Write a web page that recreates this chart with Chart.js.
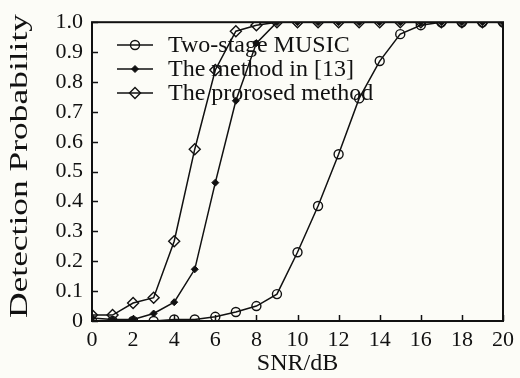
<!DOCTYPE html>
<html>
<head>
<meta charset="utf-8">
<script src="https://cdn.jsdelivr.net/npm/chart.js@4/dist/chart.umd.min.js"></script>
<style>
html,body{margin:0;padding:0;background:#fcfcf7;}
#wrap{width:520px;height:378px;}
</style>
</head>
<body>
<div id="wrap"><canvas id="c" width="520" height="378"></canvas></div>
<script>
const snr = [0,1,2,3,4,5,6,7,8,9,10,11,12,13,14,15,16,17,18,19,20];
const twoStageMusic = [0,0,0,0,0.005,0.005,0.014,0.03,0.05,0.09,0.23,0.385,0.558,0.745,0.87,0.96,0.99,1,1,1,1];
const method13 = [0.01,0.005,0.005,0.025,0.063,0.173,0.463,0.737,0.93,1,1,1,1,1,1,1,1,1,1,1,1];
const proposed = [0.02,0.02,0.06,0.078,0.267,0.575,0.84,0.97,0.99,1,1,1,1,1,1,1,1,1,1,1,1];
const seriesLabels = ['Two-stage MUSIC','The method in [13]','The prorosed method'];
const xTitle = 'SNR/dB';
const yTitle = 'Detection Probability';

const BG = '#fcfcf7';
const INK = '#111111';
const SERIF = '"Liberation Serif","DejaVu Serif",serif';

function pts(arr){ return arr.map((v,i)=>({x:snr[i], y:v})); }

const bgPlugin = {
  id:'bg',
  beforeDraw(chart){
    const ctx = chart.ctx;
    ctx.save(); ctx.fillStyle = BG; ctx.fillRect(0,0,chart.width,chart.height); ctx.restore();
  }
};

const legendPlugin = {
  id:'inlegend',
  beforeDatasetsDraw(chart){
    const ctx = chart.ctx;
    const rows = [45,69,93];
    ctx.save();
    chart.data.datasets.forEach((ds,i)=>{
      const y = rows[i];
      ctx.strokeStyle = INK; ctx.lineWidth = 1.5;
      ctx.beginPath(); ctx.moveTo(117,y); ctx.lineTo(153,y); ctx.stroke();
      ctx.fillStyle = ds.pointBackgroundColor; ctx.strokeStyle = INK; ctx.lineWidth = ds.pointBorderWidth;
      Chart.helpers.drawPoint(ctx,{pointStyle:ds.pointStyle, radius:ds.pointRadius, borderWidth:ds.pointBorderWidth, rotation:0},135,y);
      ctx.fillStyle = INK; ctx.font = '24px ' + SERIF; ctx.textBaseline = 'middle'; ctx.textAlign = 'left';
      ctx.fillText(ds.label,168,y+1);
    });
    ctx.restore();
  }
};

const framePlugin = {
  id:'frame',
  afterDraw(chart){
    const ctx = chart.ctx, a = chart.chartArea;
    const xs = chart.scales.x, ys = chart.scales.y;
    ctx.save();
    ctx.strokeStyle = INK; ctx.lineWidth = 1.5;
    xs.ticks.forEach(t=>{
      const px = Math.round(xs.getPixelForValue(t.value))+0.5;
      ctx.beginPath(); ctx.moveTo(px,a.bottom); ctx.lineTo(px,a.bottom-6); ctx.stroke();
    });
    ys.ticks.forEach(t=>{
      const py = Math.round(ys.getPixelForValue(t.value))+0.5;
      ctx.beginPath(); ctx.moveTo(a.left,py); ctx.lineTo(a.left+6,py); ctx.stroke();
    });
    ctx.lineWidth = 2;
    ctx.strokeRect(a.left,a.top,a.right-a.left,a.bottom-a.top);
    // y title, stretched along its length as in the reference
    ctx.fillStyle = INK;
    ctx.font = '25px ' + SERIF;
    ctx.textAlign = 'center'; ctx.textBaseline = 'middle';
    const w = ctx.measureText(yTitle).width;
    const target = 304;
    ctx.translate(20,166);
    ctx.rotate(-Math.PI/2);
    ctx.scale(target/w,1);
    ctx.fillText(yTitle,0,0);
    ctx.restore();
  }
};

new Chart(document.getElementById('c'),{
  type:'line',
  data:{
    datasets:[
      {label:seriesLabels[0], data:pts(twoStageMusic), borderColor:INK, borderWidth:1.5,
       pointStyle:'circle', pointRadius:4.5, pointBorderWidth:1.4, pointBackgroundColor:'rgba(0,0,0,0)', pointBorderColor:INK, clip:0, tension:0},
      {label:seriesLabels[1], data:pts(method13), borderColor:INK, borderWidth:1.5,
       pointStyle:'rectRot', pointRadius:3.5, pointBorderWidth:1, pointBackgroundColor:INK, pointBorderColor:INK, clip:0, tension:0},
      {label:seriesLabels[2], data:pts(proposed), borderColor:INK, borderWidth:1.5,
       pointStyle:'rectRot', pointRadius:5.5, pointBorderWidth:1.4, pointBackgroundColor:'rgba(0,0,0,0)', pointBorderColor:INK, clip:0, tension:0}
    ]
  },
  options:{
    responsive:false, animation:false, devicePixelRatio:1,
    layout:{padding:{top:20,right:16,left:0,bottom:0}},
    plugins:{legend:{display:false}, tooltip:{enabled:false}},
    scales:{
      x:{type:'linear', min:0, max:20,
        grid:{display:false, drawTicks:false},
        border:{display:false},
        ticks:{stepSize:2, padding:6, color:INK, font:{family:SERIF,size:22}, maxRotation:0},
        title:{display:true, text:xTitle, color:INK, font:{family:SERIF,size:24}, padding:0},
        afterFit(s){ s.height = 57; }
      },
      y:{type:'linear', min:0, max:1,
        grid:{display:false, drawTicks:false},
        border:{display:false},
        ticks:{stepSize:0.1, padding:9, color:INK, font:{family:SERIF,size:22},
          callback:(v)=> v===0 ? '0' : Number(v).toFixed(1)},
        title:{display:false},
        afterFit(s){ s.width = 92; }
      }
    }
  },
  plugins:[bgPlugin, legendPlugin, framePlugin]
});
</script>
</body>
</html>
